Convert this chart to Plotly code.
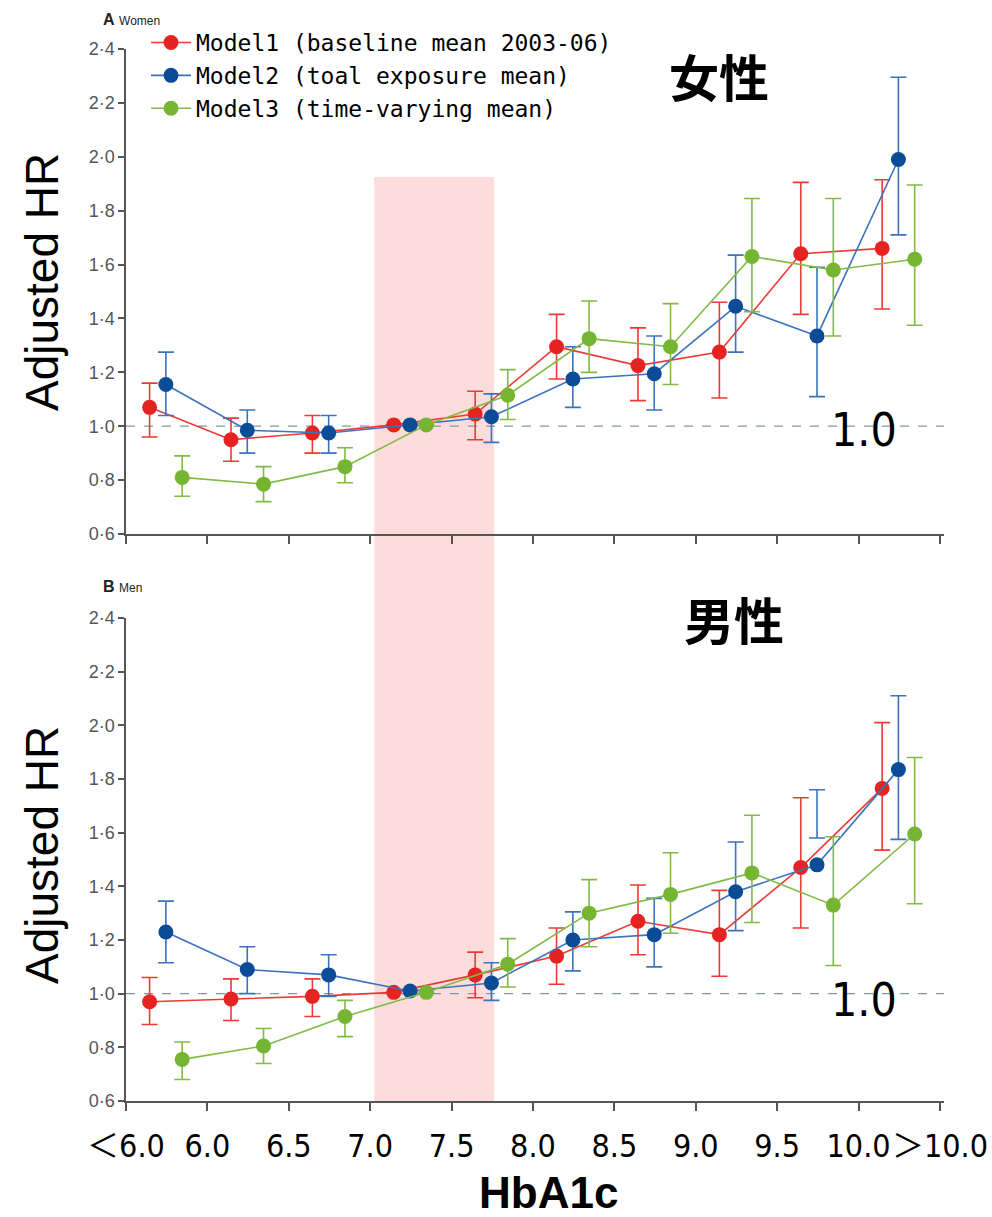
import plotly.graph_objects as go

# ---------------- data ----------------
groups = list(range(10))  # HbA1c category index
tick_labels = ["＜6.0", "6.0", "6.5", "7.0", "7.5", "8.0", "8.5", "9.0", "9.5", "10.0", "＞10.0"]
series_names = ["Model1 (baseline mean 2003-06)", "Model2 (toal exposure mean)", "Model3 (time-varying mean)"]

# Women (panel A)
w_m1 = [1.07, 0.95, 0.975, 1.005, 1.045, 1.295, 1.225, 1.275, 1.64, 1.66]
w_m1_lo = [0.96, 0.87, 0.90, 1.005, 0.95, 1.175, 1.095, 1.105, 1.415, 1.435]
w_m1_hi = [1.16, 1.03, 1.04, 1.005, 1.13, 1.415, 1.365, 1.46, 1.905, 1.915]

w_m2 = [1.155, 0.985, 0.975, 1.005, 1.035, 1.175, 1.195, 1.445, 1.335, 1.99]
w_m2_lo = [1.04, 0.90, 0.90, 1.005, 0.94, 1.07, 1.06, 1.275, 1.11, 1.71]
w_m2_hi = [1.275, 1.06, 1.04, 1.005, 1.12, 1.295, 1.335, 1.635, 1.59, 2.295]

w_m3 = [0.81, 0.785, 0.85, 1.005, 1.115, 1.325, 1.295, 1.63, 1.58, 1.62]
w_m3_lo = [0.74, 0.72, 0.79, 1.005, 1.025, 1.20, 1.155, 1.425, 1.335, 1.375]
w_m3_hi = [0.89, 0.85, 0.92, 1.005, 1.21, 1.465, 1.455, 1.845, 1.845, 1.895]

# Men (panel B)
m_m1 = [0.97, 0.98, 0.99, 1.005, 1.07, 1.14, 1.27, 1.22, 1.47, 1.765]
m_m1_lo = [0.885, 0.90, 0.915, 1.005, 0.985, 1.035, 1.145, 1.065, 1.245, 1.535]
m_m1_hi = [1.06, 1.055, 1.055, 1.005, 1.155, 1.245, 1.405, 1.385, 1.73, 2.01]

m_m2 = [1.23, 1.09, 1.07, 1.01, 1.04, 1.20, 1.22, 1.38, 1.48, 1.835]
m_m2_lo = [1.115, 1.00, 0.99, 1.01, 0.975, 1.085, 1.10, 1.235, 1.58, 1.575]
m_m2_hi = [1.345, 1.175, 1.145, 1.01, 1.115, 1.305, 1.355, 1.565, 1.76, 2.11]

m_m3 = [0.755, 0.805, 0.915, 1.005, 1.11, 1.30, 1.37, 1.45, 1.33, 1.595]
m_m3_lo = [0.68, 0.74, 0.84, 1.005, 1.025, 1.175, 1.225, 1.265, 1.105, 1.335]
m_m3_hi = [0.82, 0.87, 0.975, 1.005, 1.205, 1.425, 1.525, 1.665, 1.585, 1.88]

y_ticks = [0.6, 0.8, 1.0, 1.2, 1.4, 1.6, 1.8, 2.0, 2.2, 2.4]
y_tick_text = ["0·6", "0·8", "1·0", "1·2", "1·4", "1·6", "1·8", "2·0", "2·2", "2·4"]

# ---------------- styling ----------------
W, H = 992, 1217
ML, MR, MT, MB = 126, 48, 49, 116
offsets = [0.29, 0.49, 0.69]
marker_colors = ["#e52421", "#0c4c97", "#76b531"]
line_colors = ["#ec3b34", "#3b73bd", "#80bb45"]
narrow = "DejaVu Sans Condensed, Liberation Sans Narrow, Liberation Sans, Noto Sans CJK JP"

plot_w = W - ML - MR
plot_h = H - MT - MB


def px(xp):
    return (xp - ML) / plot_w


def py(yp):
    return (H - MB - yp) / plot_h


fig = go.Figure()

panels = [
    ("y", [(w_m1, w_m1_lo, w_m1_hi), (w_m2, w_m2_lo, w_m2_hi), (w_m3, w_m3_lo, w_m3_hi)], True),
    ("y2", [(m_m1, m_m1_lo, m_m1_hi), (m_m2, m_m2_lo, m_m2_hi), (m_m3, m_m3_lo, m_m3_hi)], False),
]
for yaxis, sers, show in panels:
    xaxis = "x" if yaxis == "y" else "x2"
    for k, (vals, lo, hi) in enumerate(sers):
        xs = [g + offsets[k] for g in groups]
        fig.add_trace(go.Scatter(
            x=xs, y=vals, mode="lines+markers", name=series_names[k],
            xaxis=xaxis, yaxis=yaxis, showlegend=show, legendgroup=str(k),
            line=dict(color=line_colors[k], width=1.6),
            marker=dict(color=marker_colors[k], size=15),
            error_y=dict(type="data", symmetric=False,
                         array=[h - v for h, v in zip(hi, vals)],
                         arrayminus=[v - l for v, l in zip(vals, lo)],
                         color=line_colors[k], thickness=1.6, width=8),
        ))

axis_common = dict(showline=True, linecolor="#555555", linewidth=1.5, ticks="outside",
                   tickcolor="#555555", tickwidth=1.5, showgrid=False, zeroline=False,
                   automargin=False)

XR = [0, 10.05]
fig.update_layout(
    width=W, height=H, margin=dict(l=ML, r=MR, t=MT, b=MB, autoexpand=False),
    plot_bgcolor="white", paper_bgcolor="white",
    xaxis=dict(domain=[0, 1], range=XR, anchor="y", tickvals=list(range(11)),
               showticklabels=False, ticklen=8, **axis_common),
    xaxis2=dict(domain=[0, 1], range=XR, anchor="y2", tickvals=list(range(11)),
                ticktext=tick_labels, ticklen=8, ticklabelstandoff=8, tickangle=0,
                tickfont=dict(family=narrow, size=32, color="black"), **axis_common),
    yaxis=dict(domain=[py(534), 1], range=[0.6, 2.4], anchor="x", tickvals=y_ticks,
               ticktext=y_tick_text, ticklen=6, tickfont=dict(family="Liberation Sans", size=18, color="#555"),
               **axis_common),
    yaxis2=dict(domain=[0, py(618)], range=[0.6, 2.4], anchor="x2", tickvals=y_ticks,
                ticktext=y_tick_text, ticklen=6, tickfont=dict(family="Liberation Sans", size=18, color="#555"),
                **axis_common),
    legend=dict(x=px(146), y=py(21), xanchor="left", yanchor="top", bgcolor="rgba(0,0,0,0)",
                font=dict(family="DejaVu Sans Mono", size=23, color="black"), tracegroupgap=0,
                itemwidth=40),
    showlegend=True,
)

# shaded target range spanning both panels
fig.add_shape(type="rect", xref="x", yref="paper", x0=3.05, x1=4.52, y0=0, y1=py(177),
              fillcolor="#fddcdc", line=dict(width=0), layer="below")
# reference lines at HR = 1.0
for yr in ["y", "y2"]:
    fig.add_shape(type="line", xref="x domain", yref=yr, x0=0, x1=1.0, y0=1.0, y1=1.0,
                  line=dict(color="#7f98a6", width=1.2, dash="dash"), layer="below")


def ann(text, xp, yp, size, family="Liberation Sans", color="black", angle=0, xanchor="center"):
    fig.add_annotation(text=text, x=px(xp), y=py(yp), xref="paper", yref="paper", showarrow=False,
                       font=dict(family=family, size=size, color=color), textangle=angle,
                       xanchor=xanchor, yanchor="middle")


ann("<b>A</b> <span style='font-size:12px'>Women</span>", 101, 20, 16, color="#222", xanchor="left")
ann("<b>B</b> <span style='font-size:12px'>Men</span>", 101, 586, 16, color="#222", xanchor="left")
ann("<b>女性</b>", 719, 75, 50, family="Noto Sans CJK JP")
ann("<b>男性</b>", 734, 618, 50, family="Noto Sans CJK JP")
ann("1.0", 864, 430, 46, family=narrow)
ann("1.0", 864, 1000, 46, family=narrow)
ann("Adjusted HR", 42, 282, 46, angle=-90)
ann("Adjusted HR", 42, 855, 46, angle=-90)
ann("<b>HbA1c</b>", 548, 1192, 44)

fig.write_html("out.html")
